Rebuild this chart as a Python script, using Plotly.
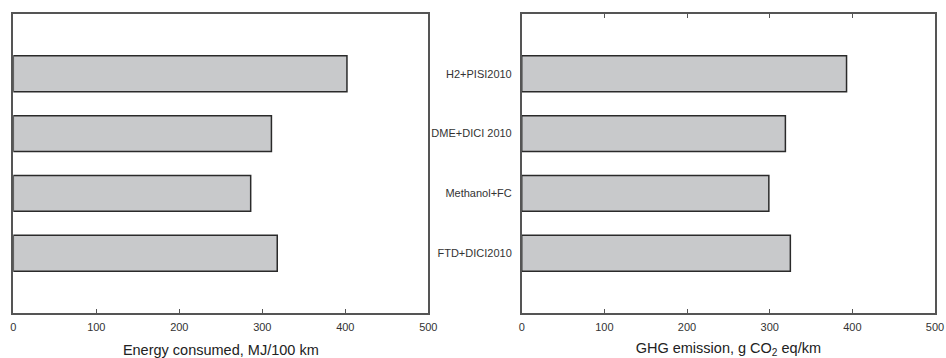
import plotly.graph_objects as go

# Fuel/powertrain pathways (bottom to top)
pathways = ["FTD+DICI2010", "Methanol+FC", "DME+DICI 2010", "H2+PISI2010"]
energy_mj_per_100km = [318, 286, 311, 402]
ghg_g_co2eq_per_km = [325, 299, 319, 393]
x_ticks = [0, 100, 200, 300, 400, 500]

W, H = 946, 358
bar_fill = "#c8c9cb"
bar_edge = "#2a2a2a"
axis_col = "#555555"
font_family = "Liberation Sans, Arial, sans-serif"

fig = go.Figure()
fig.add_trace(go.Bar(
    x=energy_mj_per_100km, y=pathways, orientation="h",
    xaxis="x", yaxis="y", width=0.6,
    marker=dict(color=bar_fill, line=dict(color=bar_edge, width=1.5)),
    showlegend=False,
))
fig.add_trace(go.Bar(
    x=ghg_g_co2eq_per_km, y=pathways, orientation="h",
    xaxis="x2", yaxis="y2", width=0.6,
    marker=dict(color=bar_fill, line=dict(color=bar_edge, width=1.5)),
    showlegend=False,
))

common_x = dict(
    range=[0, 500], tickvals=x_ticks, ticks="inside", ticklen=4,
    tickcolor=axis_col, showline=True, linecolor=axis_col, linewidth=1.5,
    showgrid=False, zeroline=False, automargin=False, ticklabelstandoff=3,
    tickfont=dict(size=11, color="#333333", family=font_family),
    title_font=dict(size=14.5, color="#222222", family=font_family),
)
common_y = dict(
    type="category", categoryorder="array", categoryarray=pathways,
    range=[-1, 4], showline=True, linecolor=axis_col, linewidth=1.5,
    showgrid=False, zeroline=False, ticks="", automargin=False,
    tickfont=dict(size=11, color="#333333", family=font_family),
)

fig.update_layout(
    width=W, height=H,
    margin=dict(l=0, r=0, t=14, b=45),
    paper_bgcolor="white", plot_bgcolor="white",
    bargap=0.4,
    xaxis=dict(domain=[13.3 / W, 428.3 / W], anchor="y", mirror=True,
               title=dict(text="Energy consumed, MJ/100 km", standoff=14),
               **common_x),
    yaxis=dict(domain=[0, 1], anchor="x", mirror=True,
               showticklabels=False, **common_y),
    xaxis2=dict(domain=[521.7 / W, 935 / W], anchor="y2", mirror="ticks",
                title=dict(text="GHG emission, g CO<sub>2</sub> eq/km", standoff=14),
                **common_x),
    yaxis2=dict(domain=[0, 1], anchor="x2", mirror=True,
                showticklabels=True, ticklabelstandoff=6, **common_y),
)

fig.write_html("out.html")
